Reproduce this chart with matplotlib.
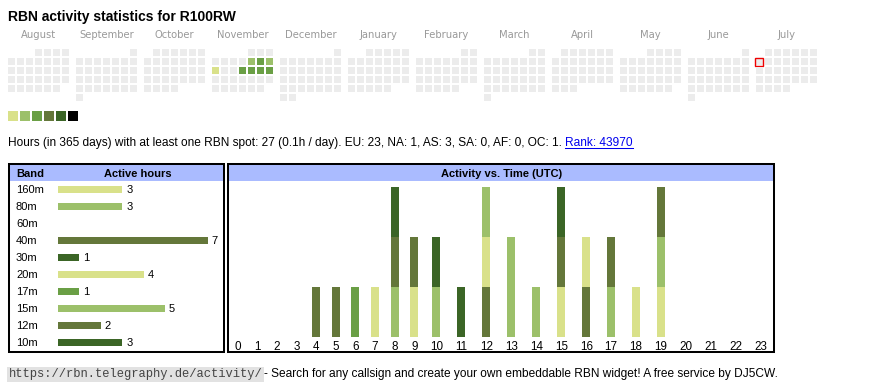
import datetime as dt
import matplotlib
matplotlib.use("Agg")
import matplotlib.pyplot as plt
from matplotlib.patches import Rectangle

W, H = 870, 390
CALLSIGN = "R100RW"

# calendar: Aug 2024 .. Jul 2025, active days with colour level
MONTHS = [(2024, 8), (2024, 9), (2024, 10), (2024, 11), (2024, 12), (2025, 1),
          (2025, 2), (2025, 3), (2025, 4), (2025, 5), (2025, 6), (2025, 7)]
MONTH_NAMES = ["August", "September", "October", "November", "December", "January",
               "February", "March", "April", "May", "June", "July"]
ACTIVE_DAYS = {dt.date(2024, 11, 8): 2, dt.date(2024, 11, 9): 3, dt.date(2024, 11, 10): 2,
               dt.date(2024, 11, 11): 1, dt.date(2024, 11, 14): 3, dt.date(2024, 11, 15): 3,
               dt.date(2024, 11, 16): 3, dt.date(2024, 11, 17): 3}
TODAY = dt.date(2025, 7, 7)

LEVELS = ["#ececec", "#d9e18a", "#9cc06a", "#6a9f45", "#64773a", "#3b6526", "#000000"]

BANDS = ["160m", "80m", "60m", "40m", "30m", "20m", "17m", "15m", "12m", "10m"]
BAND_HOURS = [3, 3, 0, 7, 1, 4, 1, 5, 2, 3]
BAND_LEVEL = [1, 2, 3, 4, 5, 1, 3, 2, 4, 5]

HOURS = list(range(24))
# bands active in each UTC hour, bottom to top
HOUR_BANDS = {4: ["40m"], 5: ["40m"], 6: ["17m"], 7: ["20m"],
              8: ["15m", "40m", "10m"], 9: ["20m", "40m"], 10: ["15m", "10m"],
              11: ["30m"], 12: ["12m", "160m", "80m"], 13: ["15m", "15m"],
              14: ["15m"], 15: ["20m", "40m", "10m"], 16: ["12m", "160m"],
              17: ["80m", "40m"], 18: ["20m"], 19: ["160m", "80m", "40m"]}

SUMMARY = ("Hours (in 365 days) with at least one RBN spot: 27 (0.1h / day). "
           "EU: 23, NA: 1, AS: 3, SA: 0, AF: 0, OC: 1. ")
RANK = "Rank: 43970"
URL = "https://rbn.telegraphy.de/activity/"
FOOTER = "- Search for any callsign and create your own embeddable RBN widget! A free service by DJ5CW."

HEAD_BLUE = "#aabbff"
SANS = "Liberation Sans"

fig = plt.figure(figsize=(W / 100, H / 100), dpi=100)
ax = fig.add_axes([0, 0, 1, 1])
ax.set_xlim(0, W)
ax.set_ylim(H, 0)
ax.axis("off")


def px_axes(x0, y0, x1, y1):
    a = fig.add_axes([x0 / W, 1 - y1 / H, (x1 - x0) / W, (y1 - y0) / H])
    a.patch.set_alpha(0)
    a.axis("off")
    return a


ax.text(8, 20.5, f"RBN activity statistics for {CALLSIGN}", family=SANS,
        weight="bold", fontsize=10, va="baseline")

# calendar heatmap
CELL, STEP, BLOCK = 7, 9, 68
for m, ((yr, mo), name) in enumerate(zip(MONTHS, MONTH_NAMES)):
    x0 = 8 + BLOCK * m
    ax.text(x0 + (7 * STEP - 2) / 2, 38.5, name, color="#999999",
            fontsize=7.2, ha="center", va="baseline")
    first = dt.date(yr, mo, 1)
    day = first
    while day.month == mo:
        col = day.weekday()
        row = (day.day - 1 + first.weekday()) // 7
        cx, cy = x0 + STEP * col, 49 + STEP * row
        lvl = ACTIVE_DAYS.get(day, 0)
        ax.add_patch(Rectangle((cx, cy), CELL, CELL, color=LEVELS[lvl], lw=0))
        if day == TODAY:
            ax.add_patch(Rectangle((cx - 0.5, cy - 0.5), CELL + 1, CELL + 1,
                                   fill=False, ec="#ee0000", lw=1.0))
        day += dt.timedelta(days=1)

for i, c in enumerate(LEVELS[1:]):
    ax.add_patch(Rectangle((8 + 12 * i, 111), 10, 10, color=c, lw=0))

summ = ax.text(8, 146, SUMMARY, family=SANS, fontsize=8.6, va="baseline")
fig.canvas.draw()
r = fig.canvas.get_renderer()
bb = summ.get_window_extent(r)
xr = ax.transData.inverted().transform((bb.x1, 0))[0]
rank = ax.text(xr, 146, RANK, family=SANS, fontsize=8.6, va="baseline", color="#0000ee")
fig.canvas.draw()
bb = rank.get_window_extent(r)
rx = ax.transData.inverted().transform([(bb.x0, 0), (bb.x1, 0)])[:, 0]
ax.plot(rx, [147.5, 147.5], color="#0000ee", lw=0.75)

# boxes and headers
for x0, x1 in [(9.3, 224.3), (228.3, 774.3)]:
    ax.add_patch(Rectangle((x0 + 1, 165.3), x1 - x0 - 2, 15.7, color=HEAD_BLUE, lw=0))
    ax.add_patch(Rectangle((x0, 164.3), x1 - x0, 187.6, fill=False, ec="black", lw=1.45))
ax.text(16.5, 177.3, "Band", family=SANS, weight="bold", fontsize=8, va="baseline")
ax.text(138, 177.3, "Active hours", family=SANS, weight="bold", fontsize=8,
        ha="center", va="baseline")
ax.text(501.3, 177.3, "Activity vs. Time (UTC)", family=SANS, weight="bold",
        fontsize=8, ha="center", va="baseline")

# band table
UNIT = 21.4
ab = px_axes(58, 180.8, 222, 350.8)
ab.set_xlim(0, 164 / UNIT)
ab.set_ylim(len(BANDS) - 0.5, -0.5)
ab.barh(range(len(BANDS)), BAND_HOURS, height=7 / 17,
        color=[LEVELS[l] for l in BAND_LEVEL], lw=0)
for i, (b, v) in enumerate(zip(BANDS, BAND_HOURS)):
    ab.text(-42 / UNIT, i + 0.2, b, family=SANS, fontsize=8, va="baseline", clip_on=False)
    if v:
        ab.text(v + 4 / UNIT, i + 0.2, str(v), family=SANS, fontsize=8, va="baseline")

# activity vs time: table-like columns, wider for two-digit hours
col_w = [14.25 + 5.35 * len(str(h)) for h in HOURS]
centers, acc = [], 0
for w in col_w:
    centers.append(acc + w / 2)
    acc += w
aa = px_axes(228, 181, 228 + acc, 351)
aa.set_xlim(0, acc)
aa.set_ylim(-14.3 / 50, 155.7 / 50)
band_color = dict(zip(BANDS, [LEVELS[l] for l in BAND_LEVEL]))
for h in HOURS:
    for k, b in enumerate(HOUR_BANDS.get(h, [])):
        aa.bar(centers[h], 1, width=8, bottom=k, color=band_color[b], lw=0)
    aa.text(centers[h], -13.3 / 50, str(h), family=SANS, fontsize=8.4,
            ha="center", va="baseline")

# footer
ax.text(8.5, 377.5, URL, family="Liberation Mono", fontsize=8.7, color="#444444",
        va="baseline", bbox=dict(boxstyle="square,pad=0.15", fc="#e2e2e2", ec="none"))
ax.text(264, 377.5, FOOTER, family=SANS, fontsize=8.6, va="baseline")

fig.savefig("out.png", dpi=100)
